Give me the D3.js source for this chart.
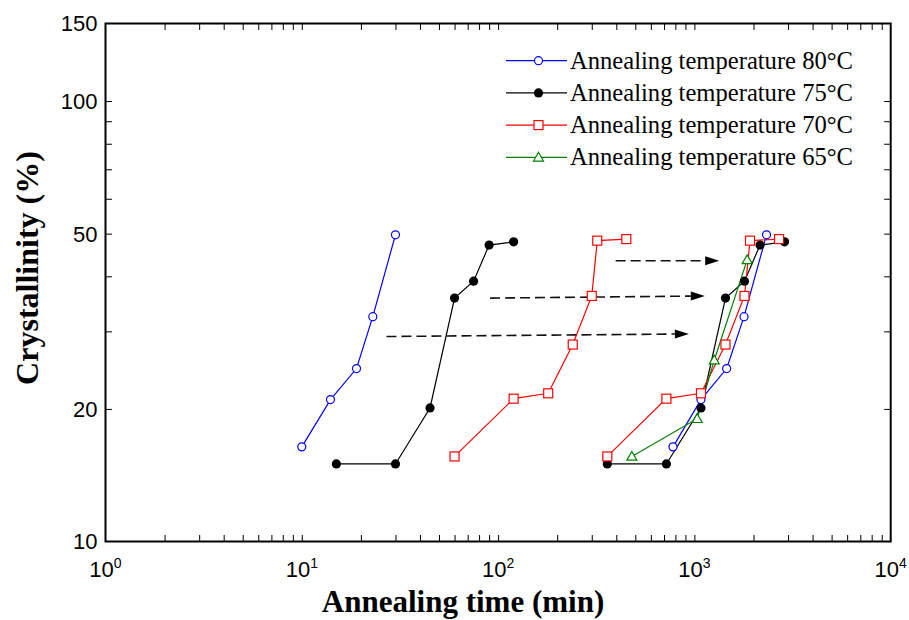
<!DOCTYPE html>
<html>
<head>
<meta charset="utf-8">
<script src="https://cdn.jsdelivr.net/npm/d3@7/dist/d3.min.js"></script>
<style>
  html, body { margin: 0; padding: 0; background: #fff; }
  svg { display: block; }
</style>
</head>
<body>
<svg id="chart" width="909" height="620"></svg>
<script>
// Crystallinity vs annealing time at four annealing temperatures
const seriesNames = [
  "Annealing temperature 80\u00B0C",
  "Annealing temperature 75\u00B0C",
  "Annealing temperature 70\u00B0C",
  "Annealing temperature 65\u00B0C"
];

// measured data (left groups: actual time; right groups: shifted time)
const t80a = [10, 14, 19, 23, 30];
const c80a = [16.4, 21.0, 24.7, 32.4, 49.7];
const t75a = [15, 30, 45, 60, 75, 90, 120];
const c75a = [15.0, 15.0, 20.1, 35.7, 39.0, 47.1, 47.9];
const t70a = [60, 120, 180, 240, 300, 320, 450];
const c70a = [15.6, 21.1, 21.7, 28.0, 36.1, 48.2, 48.6];

const t80b = [778, 1080, 1460, 1790, 2330];
const c80b = [16.4, 21.0, 24.7, 32.4, 49.7];
const t75b = [360, 720, 1080, 1440, 1800, 2160, 2880];
const c75b = [15.0, 15.0, 20.1, 35.7, 39.0, 47.1, 47.9];
const t70b = [360, 720, 1080, 1440, 1800, 1920, 2700];
const c70b = [15.6, 21.1, 21.7, 28.0, 36.1, 48.2, 48.6];
const t65 = [480, 1033, 1262, 1857];
const c65 = [15.6, 19.0, 25.8, 43.6];

// shift arrows: [t start, c start, t end, c end]
const shiftArrows = [
  [27, 29.2, 937, 29.6],
  [91, 35.7, 1130, 36.1],
  [397, 43.4, 1337, 43.4]
];

const xDecades = [1, 10, 100, 1000, 10000];
const xExponents = ["0", "1", "2", "3", "4"];
const yTickLabels = [10, 20, 50, 100, 150];
const yMinorTicks = [20, 30, 40, 50, 60, 70, 80, 90, 100];

const colors = ["#0000ff", "#000000", "#ff0000", "#008000"];
const markers = ["circleOpen", "circleFilled", "square", "triangle"];

const svg = d3.select("#chart");
const L = 105.5, R = 890.7, T = 23.5, B = 541.5;

const x = d3.scaleLog().domain([1, 10000]).range([L, R]);
const y = d3.scaleLog().domain([10, 150]).range([B, T]);

// minor x ticks 2..9 for each decade plus decades
const xTicks = [];
for (let d = 1; d < 10000; d *= 10) for (let k = 1; k < 10; k++) xTicks.push(d * k);
xTicks.push(10000);

const tickLen = 6.5;
const axisG = svg.append("g");
axisG.append("g").attr("transform", `translate(0,${B})`)
  .call(d3.axisBottom(x).tickValues(xTicks.filter(v => v > 1 && v < 10000)).tickSize(-tickLen).tickFormat(""));
axisG.append("g").attr("transform", `translate(0,${T})`)
  .call(d3.axisTop(x).tickValues(xTicks.filter(v => v > 1 && v < 10000)).tickSize(-tickLen).tickFormat(""));
axisG.append("g").attr("transform", `translate(${L},0)`)
  .call(d3.axisLeft(y).tickValues(yMinorTicks).tickSize(-tickLen).tickFormat(""));
axisG.append("g").attr("transform", `translate(${R},0)`)
  .call(d3.axisRight(y).tickValues(yMinorTicks).tickSize(-tickLen).tickFormat(""));
axisG.selectAll(".domain").remove();
axisG.selectAll(".tick line").attr("stroke", "#000").attr("stroke-width", 1);

// frame
svg.append("rect").attr("x", L).attr("y", T).attr("width", R - L).attr("height", B - T)
  .attr("fill", "none").attr("stroke", "#000").attr("stroke-width", 2);

// x tick labels with superscripts
const xl = svg.append("g").attr("font-family", "'Liberation Sans', Arial, sans-serif").attr("fill", "#000");
xDecades.forEach((v, i) => {
  const t = xl.append("text").attr("x", x(v)).attr("y", B + 35)
    .attr("text-anchor", "middle").attr("font-size", 22);
  t.append("tspan").text("10");
  t.append("tspan").attr("dy", -9).attr("font-size", 14).text(xExponents[i]);
});

// y tick labels
yTickLabels.forEach(v => {
  xl.append("text").attr("x", L - 8).attr("y", y(v)).attr("dy", "0.36em")
    .attr("text-anchor", "end").attr("font-size", 22).text(v);
});

// axis titles
svg.append("text").attr("x", 463).attr("y", 612).attr("text-anchor", "middle")
  .attr("font-family", "'Liberation Serif', 'Times New Roman', serif")
  .attr("font-weight", "bold").attr("font-size", 31).text("Annealing time (min)");
svg.append("text").attr("transform", "translate(38,268) rotate(-90)").attr("text-anchor", "middle")
  .attr("font-family", "'Liberation Serif', 'Times New Roman', serif")
  .attr("font-weight", "bold").attr("font-size", 32).text("Crystallinity (%)");

// marker drawing
function drawMarker(g, kind, color, cx, cy) {
  if (kind === "circleOpen") {
    g.append("circle").attr("cx", cx).attr("cy", cy).attr("r", 4)
      .attr("fill", "#fff").attr("stroke", color).attr("stroke-width", 1.2);
  } else if (kind === "circleFilled") {
    g.append("circle").attr("cx", cx).attr("cy", cy).attr("r", 4.6).attr("fill", color);
  } else if (kind === "square") {
    g.append("rect").attr("x", cx - 4.5).attr("y", cy - 4.5).attr("width", 9).attr("height", 9)
      .attr("fill", "#fff").attr("stroke", color).attr("stroke-width", 1.2);
  } else {
    const s = 5;
    g.append("path").attr("d", `M${cx},${cy - s}L${cx + s},${cy + s * 0.75}L${cx - s},${cy + s * 0.75}Z`)
      .attr("fill", "#fff").attr("stroke", color).attr("stroke-width", 1.2);
  }
}

const line = d3.line().x(d => x(d[0])).y(d => y(d[1]));

// arrows (drawn beneath the series)
const arrowG = svg.append("g");
shiftArrows.forEach(a => {
  const x1 = x(a[0]), y1 = y(a[1]), x2 = x(a[2]), y2 = y(a[3]);
  const ang = Math.atan2(y2 - y1, x2 - x1);
  const hl = 14, hw = 4.5;
  const bx = x2 - hl * Math.cos(ang), by = y2 - hl * Math.sin(ang);
  arrowG.append("line").attr("x1", x1).attr("y1", y1).attr("x2", bx).attr("y2", by)
    .attr("stroke", "#111").attr("stroke-width", 1.6).attr("stroke-dasharray", "10,5");
  const px = -Math.sin(ang) * hw, py = Math.cos(ang) * hw;
  arrowG.append("path")
    .attr("d", `M${x2},${y2}L${bx + px},${by + py}L${bx - px},${by - py}Z`)
    .attr("fill", "#000");
});

// series groups: [times, crystallinity, series index]
const groups = [
  [t80a, c80a, 0], [t75a, c75a, 1], [t70a, c70a, 2],
  [t80b, c80b, 0], [t75b, c75b, 1], [t70b, c70b, 2], [t65, c65, 3]
];
const seriesG = svg.append("g");
groups.forEach(([ts, cs, si]) => {
  const pts = ts.map((t, i) => [t, cs[i]]);
  seriesG.append("path").attr("d", line(pts)).attr("fill", "none")
    .attr("stroke", colors[si]).attr("stroke-width", 1.2);
});
groups.forEach(([ts, cs, si]) => {
  ts.forEach((t, i) => drawMarker(seriesG, markers[si], colors[si], x(t), y(cs[i])));
});

// legend
const leg = svg.append("g");
seriesNames.forEach((name, i) => {
  const cy = 60.7 + i * 32.2;
  leg.append("line").attr("x1", 506).attr("x2", 567).attr("y1", cy).attr("y2", cy)
    .attr("stroke", colors[i]).attr("stroke-width", 1.2);
  drawMarker(leg, markers[i], colors[i], 538.5, cy);
  leg.append("text").attr("x", 570).attr("y", cy + 8)
    .attr("font-family", "'Liberation Serif', 'Times New Roman', serif")
    .attr("font-size", 24.6).attr("fill", "#000").text(name);
});
</script>
</body>
</html>
